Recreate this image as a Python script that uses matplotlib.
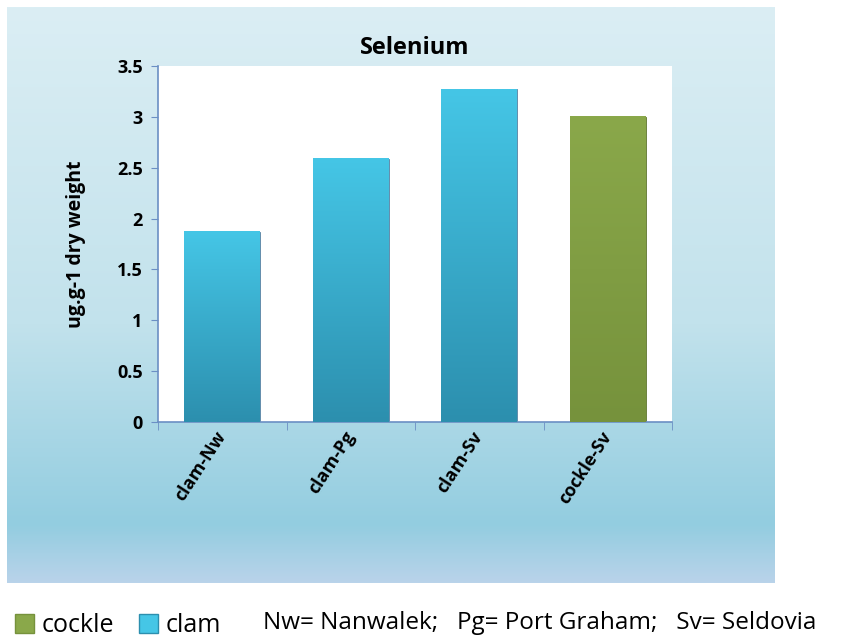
import numpy as np
import matplotlib
matplotlib.use('Agg')
import matplotlib.pyplot as plt
from matplotlib.patches import Patch
from matplotlib.colors import LinearSegmentedColormap

plt.rcParams['font.family'] = ['Open Sans', 'DejaVu Sans']

# Данные
categories = ['clam-Nw', 'clam-Pg', 'clam-Sv', 'cockle-Sv']
values = [1.87, 2.59, 3.27, 3.0]
species = ['clam', 'clam', 'clam', 'cockle']
yticks = [0, 0.5, 1, 1.5, 2, 2.5, 3, 3.5]

colors = {'clam': ('#45c6e6', '#2c8fae'), 'cockle': ('#8aa84a', '#76923c')}

fig = plt.figure(figsize=(8.48, 6.39), dpi=100)

# Фон панели с градиентом
bg = fig.add_axes([7 / 848, 1 - 583 / 639, 768 / 848, 576 / 639], zorder=0)
bg_cmap = LinearSegmentedColormap.from_list(
    'bg', [(0, '#b9d3ea'), (0.1, '#93cde0'), (0.45, '#c2e2ec'), (1, '#dbeef4')])
bg.imshow(np.linspace(0, 1, 256).reshape(-1, 1), aspect='auto', cmap=bg_cmap,
          origin='lower', extent=[0, 1, 0, 1])
bg.axis('off')

ax = fig.add_axes([158 / 848, 1 - 422 / 639, 514 / 848, 356 / 639], zorder=1)
ax.set_facecolor('white')

x = np.arange(len(categories))
bars = ax.bar(x, values, width=0.59, color=[colors[s][0] for s in species], zorder=2)

# Градиент внутри столбцов
for b, s in zip(bars, species):
    cmap = LinearSegmentedColormap.from_list('c', [colors[s][1], colors[s][0]])
    x0, y0 = b.get_x(), b.get_y()
    ax.imshow(np.linspace(0, 1, 256).reshape(-1, 1), aspect='auto', cmap=cmap,
              origin='lower', extent=[x0, x0 + b.get_width(), y0, y0 + b.get_height()],
              zorder=3, clip_path=b)
    b.set_edgecolor('#5a7fa0' if s == 'clam' else '#5f7530')
    b.set_linewidth(0.6)

ax.set_xlim(-0.5, len(categories) - 0.5)
ax.set_ylim(0, 3.5)
ax.set_yticks(yticks)
ax.set_yticklabels([f'{v:g}' for v in yticks], fontsize=13, fontweight='bold')
ax.set_xticks(x)
ax.set_xticklabels(categories, rotation=57, ha='right', va='center',
                   rotation_mode='anchor', fontsize=13, fontweight='bold')
ax.tick_params(axis='x', which='major', length=0, pad=8)
ax.set_xticks(np.arange(-0.5, len(categories), 1), minor=True)
ax.tick_params(axis='x', which='minor', length=6, color='#6b8fc4', direction='out')
ax.tick_params(axis='y', length=5, color='#6b8fc4', direction='out', pad=6)

for side in ['top', 'right']:
    ax.spines[side].set_visible(False)
for side in ['left', 'bottom']:
    ax.spines[side].set_color('#6b8fc4')
    ax.spines[side].set_linewidth(1.2)

ax.set_title('Selenium', fontsize=17, fontweight='bold', pad=9)
ax.set_ylabel('ug.g-1 dry weight', fontsize=14, fontweight='bold', labelpad=22)

# Легенда внизу
handles = [Patch(facecolor=colors['cockle'][0], edgecolor=colors['cockle'][1], label='cockle'),
           Patch(facecolor=colors['clam'][0], edgecolor=colors['clam'][1], label='clam')]
fig.legend(handles=handles, loc='lower left', bbox_to_anchor=(0.015, -0.002), ncol=2,
           frameon=False, fontsize=18, handlelength=0.75, handleheight=0.8,
           handletextpad=0.3, columnspacing=1.0, borderaxespad=0.0, borderpad=0.1)
fig.text(263 / 848, 10 / 639, 'Nw= Nanwalek;   Pg= Port Graham;   Sv= Seldovia',
         fontsize=17.5, va='baseline', ha='left')

fig.savefig('out.png', dpi=100)
